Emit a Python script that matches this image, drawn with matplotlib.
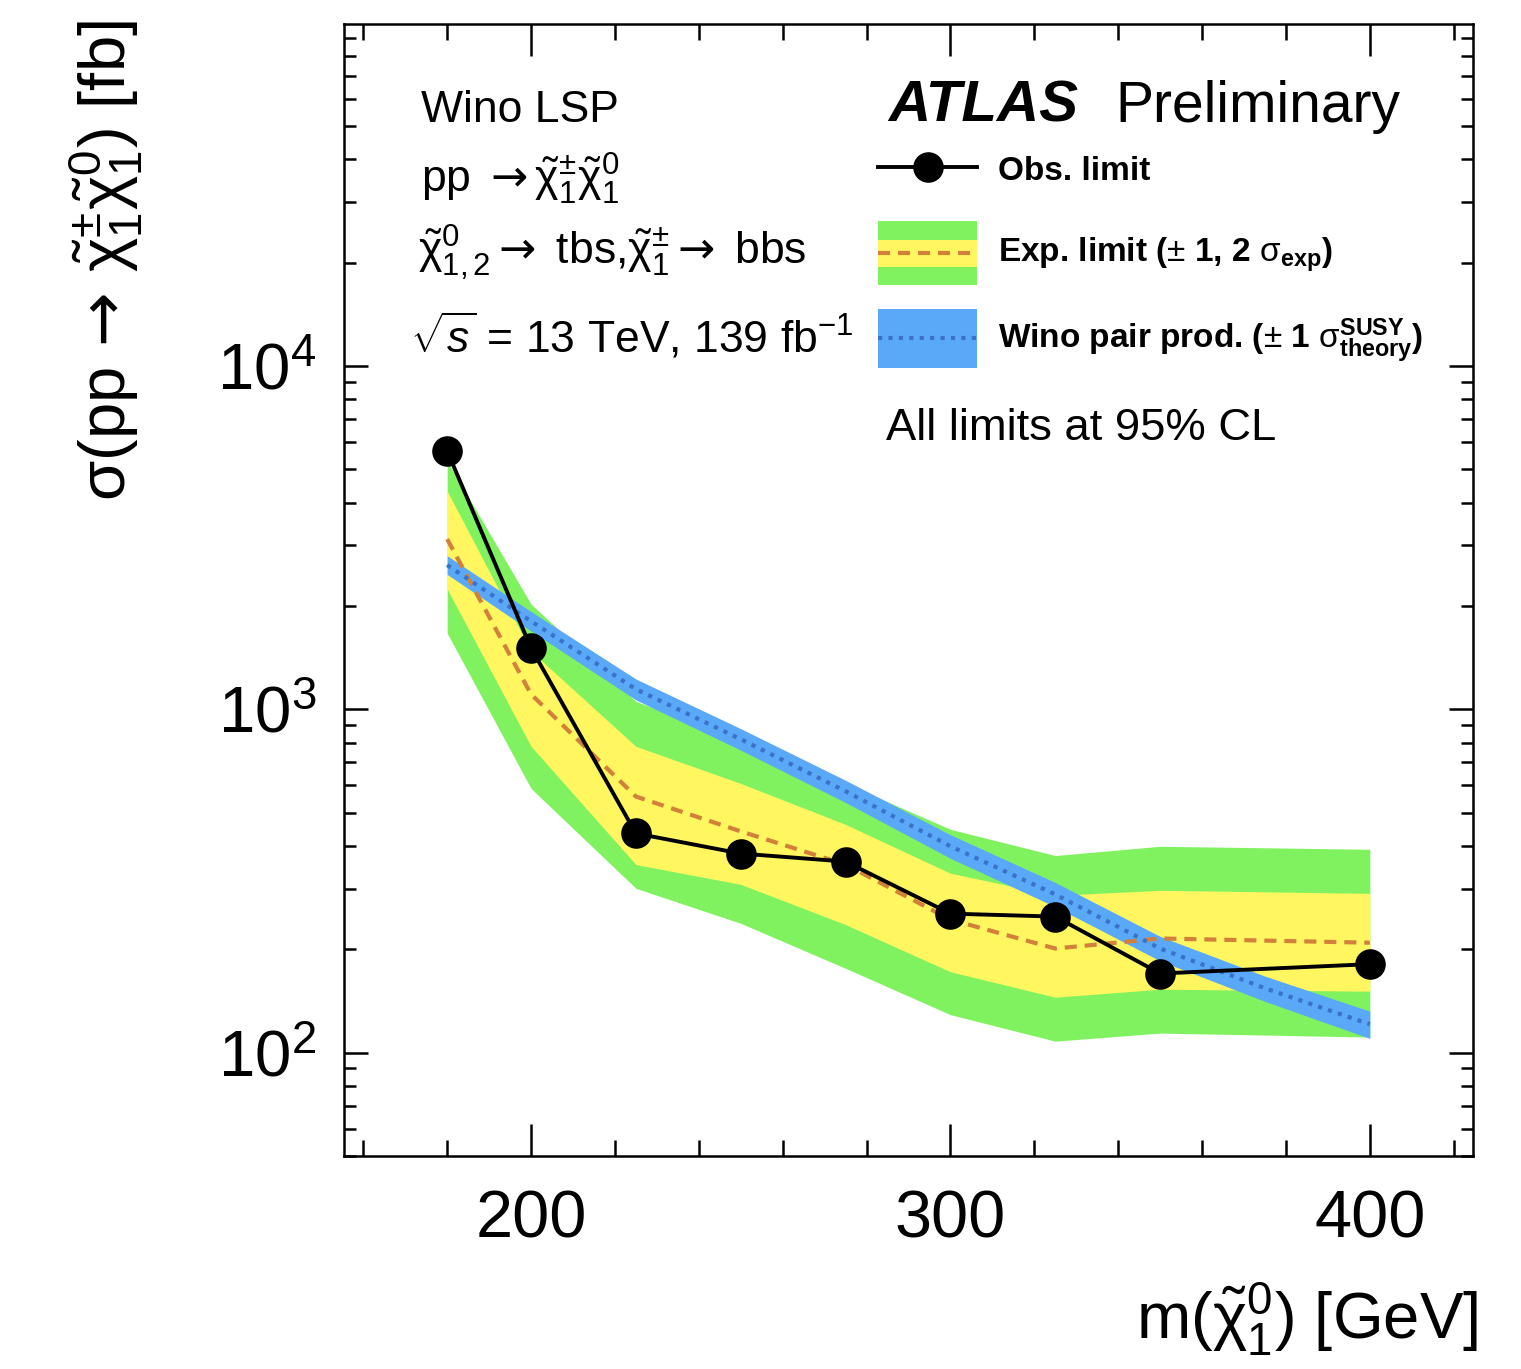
import matplotlib
matplotlib.use('Agg')
import matplotlib.pyplot as plt
from matplotlib.patches import Rectangle
from matplotlib.lines import Line2D
from matplotlib.ticker import LogLocator, NullFormatter

plt.rcParams['font.family'] = ['Liberation Sans', 'DejaVu Sans']
plt.rcParams['mathtext.fontset'] = 'custom'
plt.rcParams['mathtext.rm'] = 'Liberation Sans'
plt.rcParams['mathtext.it'] = 'Liberation Sans:italic'
plt.rcParams['mathtext.bf'] = 'Liberation Sans:bold'
plt.rcParams['mathtext.sf'] = 'DejaVu Sans'

# neutralino mass points [GeV] and cross-section limits [fb]
mass = [180, 200, 225, 250, 275, 300, 325, 350, 400]
obs = [5650, 1507, 435, 380, 360, 254, 249, 170, 181]
exp = [3130, 1106, 557, 441, 353, 244, 201, 215, 209]
exp_up1 = [4320, 1476, 780, 608, 462, 333, 287, 297, 291]
exp_dn1 = [2240, 780, 353, 309, 236, 172, 145, 153, 151]
exp_up2 = [5285, 2024, 1055, 807, 608, 447, 375, 399, 391]
exp_dn2 = [1666, 588, 301, 238, 176, 129, 108, 114, 111]

# wino pair production cross-section with theory uncertainty
theory_mass = [180, 200, 225, 250, 275, 300, 325, 350, 375, 400]
theory = [2630, 1805, 1144, 818, 577, 399, 289, 201, 154, 121]
theory_up = [2800, 1925, 1225, 878, 621, 431, 313, 218, 167, 132]
theory_dn = [2470, 1690, 1065, 760, 535, 368, 266, 185, 141, 110]

green = '#80f260'
yellow = '#fff660'
blue = '#5aa8f8'
dblue = '#3a72c8'
orange = '#d2803a'
dash = (0, (2.9, 1.9))
dots = (0, (1, 1.5))

W, H = 1521, 1369
fig = plt.figure(figsize=(W / 100, H / 100), dpi=100)
ax = fig.add_axes([344 / W, 1 - 1156 / H, (1473 - 344) / W, (1156 - 24) / H])

def fx(px):
    return px / W

def fy(py):
    return 1 - py / H

ax.fill_between(mass, exp_dn2, exp_up2, color=green, lw=0)
ax.fill_between(mass, exp_dn1, exp_up1, color=yellow, lw=0)
ax.plot(mass, exp, color=orange, lw=3, ls=dash)
ax.fill_between(theory_mass, theory_dn, theory_up, color=blue, lw=0)
ax.plot(theory_mass, theory, color=dblue, lw=3, ls=dots)
ax.plot(mass, obs, color='black', lw=2.8, marker='o', ms=21)

ax.set_yscale('log')
ax.set_xlim(155.4, 424.6)
ax.set_ylim(50, 9.9e4)
ax.set_xticks([200, 300, 400])
ax.set_xticks(range(160, 421, 20), minor=True)
ax.yaxis.set_major_locator(LogLocator(base=10, numticks=10))
ax.yaxis.set_minor_locator(LogLocator(base=10, subs=range(2, 10), numticks=20))
ax.yaxis.set_minor_formatter(NullFormatter())
ax.tick_params(which='both', direction='in', top=True, right=True, width=1.8)
ax.tick_params(axis='x', which='major', length=23, labelsize=48, pad=24)
ax.tick_params(axis='x', which='minor', length=11.5)
ax.tick_params(axis='y', which='major', length=17, labelsize=47, pad=20)
ax.tick_params(axis='y', which='minor', length=8.6)
for s in ax.spines.values():
    s.set_linewidth(1.8)

chi = r'\tilde{\mathrm{\chi}}'
arrow = r'\mathsf{\rightarrow}'
pair = chi + r'^{\pm}_{1}' + chi + r'^{0}_{1}'

# axis titles
fig.text(fx(105), fy(20), r'$\mathrm{\sigma}(\mathrm{pp}\,' + arrow + r'\,' + pair + r')$ [fb]',
         rotation=90, ha='center', va='top', fontsize=47)
fig.text(fx(1478), fy(1338), r'm($' + chi + r'^{0}_{1}$) [GeV]',
         ha='right', va='baseline', fontsize=47)

# process description
fig.text(fx(421), fy(122), 'Wino LSP', fontsize=32)
fig.text(fx(421), fy(193), r'pp $' + arrow + pair + '$', fontsize=32)
fig.text(fx(418), fy(264),
         '$' + chi + r'^{0}_{1,2}' + arrow + r'$ tbs,$' + chi + r'^{\pm}_{1}' + arrow
         + r'$ bbs', fontsize=32)
fig.text(fx(410), fy(353), r'$\sqrt{s}$ = 13 TeV, 139 fb$^{-1}$', fontsize=32)

# ATLAS label
fig.text(fx(888), fy(122), 'ATLAS', fontsize=42, fontweight='bold', fontstyle='italic')
fig.text(fx(1115), fy(122), 'Preliminary', fontsize=41)

# legend
fig.add_artist(Line2D([fx(878), fx(977)], [fy(167), fy(167)], color='black', lw=2.8))
fig.add_artist(Line2D([fx(928)], [fy(167)], color='black', marker='o', ms=21))
fig.text(fx(998), fy(180), 'Obs. limit', fontsize=24, fontweight='bold')

fig.add_artist(Rectangle((fx(878), fy(285)), fx(99), 64 / H, color=green, lw=0))
fig.add_artist(Rectangle((fx(878), fy(267)), fx(99), 27 / H, color=yellow, lw=0))
fig.add_artist(Line2D([fx(878), fx(977)], [fy(253), fy(253)], color=orange, lw=3, ls=dash))
fig.text(fx(998), fy(262), r'Exp. limit ($\pm$ 1, 2 $\mathrm{\sigma}_{\mathbf{exp}}$)',
         fontsize=24, fontweight='bold')

fig.add_artist(Rectangle((fx(878), fy(368)), fx(99), 59 / H, color=blue, lw=0))
fig.add_artist(Line2D([fx(878), fx(977)], [fy(338), fy(338)], color=dblue, lw=3, ls=dots))
fig.text(fx(998), fy(348),
         r'Wino pair prod. ($\pm$ 1 $\mathrm{\sigma}^{\mathbf{SUSY}}_{\mathbf{theory}}$)',
         fontsize=24, fontweight='bold')

fig.text(fx(886), fy(440), 'All limits at 95% CL', fontsize=32.7)

fig.savefig('out.png', dpi=100)
